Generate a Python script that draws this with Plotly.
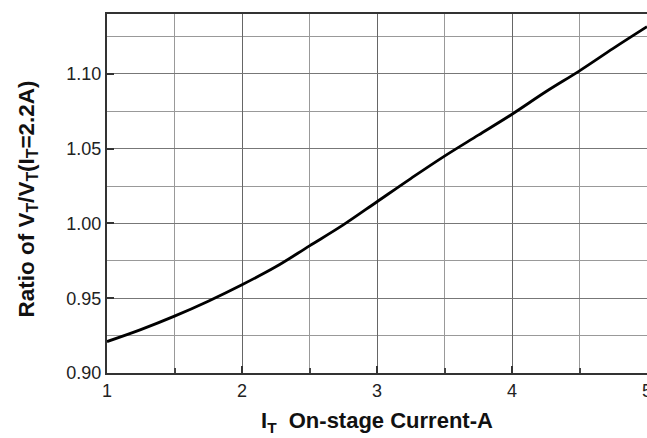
import plotly.graph_objects as go

current = [1.0, 1.25, 1.5, 1.75, 2.0, 2.25, 2.5, 2.75, 3.0, 3.25, 3.5, 3.75, 4.0, 4.25, 4.5, 4.75, 5.0]
ratio = [0.921, 0.929, 0.938, 0.948, 0.959, 0.971, 0.985, 0.999, 1.0145, 1.030, 1.045,
         1.059, 1.073, 1.088, 1.102, 1.117, 1.1315]

x_ticks = [1, 2, 3, 4, 5]
y_ticks = [0.90, 0.95, 1.00, 1.05, 1.10]
y_tick_text = ["0.90", "0.95", "1.00", "1.05", "1.10"]

FONT = "Liberation Sans, Arial, sans-serif"

fig = go.Figure()
fig.add_trace(go.Scatter(
    x=current, y=ratio, mode="lines",
    line=dict(color="black", width=2.8, shape="spline", smoothing=1.0),
    hoverinfo="skip", showlegend=False,
))

fig.update_layout(
    width=647, height=438,
    margin=dict(l=107, r=0, t=14, b=65),
    paper_bgcolor="white", plot_bgcolor="white",
    font=dict(family=FONT, color="#222", size=18),
    xaxis=dict(
        range=[1, 5], tickvals=x_ticks, ticktext=[str(v) for v in x_ticks],
        showgrid=True, gridcolor="#666", gridwidth=1,
        ticks="inside", ticklen=7, tickcolor="#333", tickwidth=1.5,
        showline=True, linecolor="#333", linewidth=2, mirror=True,
        zeroline=False, automargin=False, ticklabeloverflow="allow",
        tickfont=dict(size=18, family=FONT, color="#222"),
        minor=dict(dtick=0.5, showgrid=True, gridcolor="#999", gridwidth=1,
                   ticks="inside", ticklen=5, tickcolor="#444"),
    ),
    yaxis=dict(
        range=[0.90, 1.14], tickvals=y_ticks, ticktext=y_tick_text,
        showgrid=True, gridcolor="#777", gridwidth=1,
        ticks="inside", ticklen=7, tickcolor="#333", tickwidth=1.5,
        showline=True, linecolor="#333", linewidth=2, mirror=False,
        zeroline=False, automargin=False, ticklabeloverflow="allow",
        tickfont=dict(size=18, family=FONT, color="#222"),
        minor=dict(dtick=0.025, showgrid=True, gridcolor="#999", gridwidth=1),
    ),
    annotations=[
        dict(text="<b>Ratio of V<sub>T</sub>/V<sub>T</sub>(I<sub>T</sub>=2.2A)</b>",
             xref="paper", yref="paper", x=0, y=0.5, xshift=-80, yshift=-6,
             xanchor="center", yanchor="middle", textangle=-90, showarrow=False,
             font=dict(size=22.5, family=FONT, color="#111")),
        dict(text="<b>I<sub>T</sub>  On-stage Current-A</b>",
             xref="paper", yref="paper", x=0.5, y=0, yshift=-49,
             xanchor="center", yanchor="middle", showarrow=False,
             font=dict(size=22, family=FONT, color="#111")),
    ],
)

fig.write_html(
    "out.html",
    config={"displayModeBar": False},
    post_script="document.body.style.margin='0';document.body.style.padding='0';"
                "document.body.style.overflow='hidden';",
)
